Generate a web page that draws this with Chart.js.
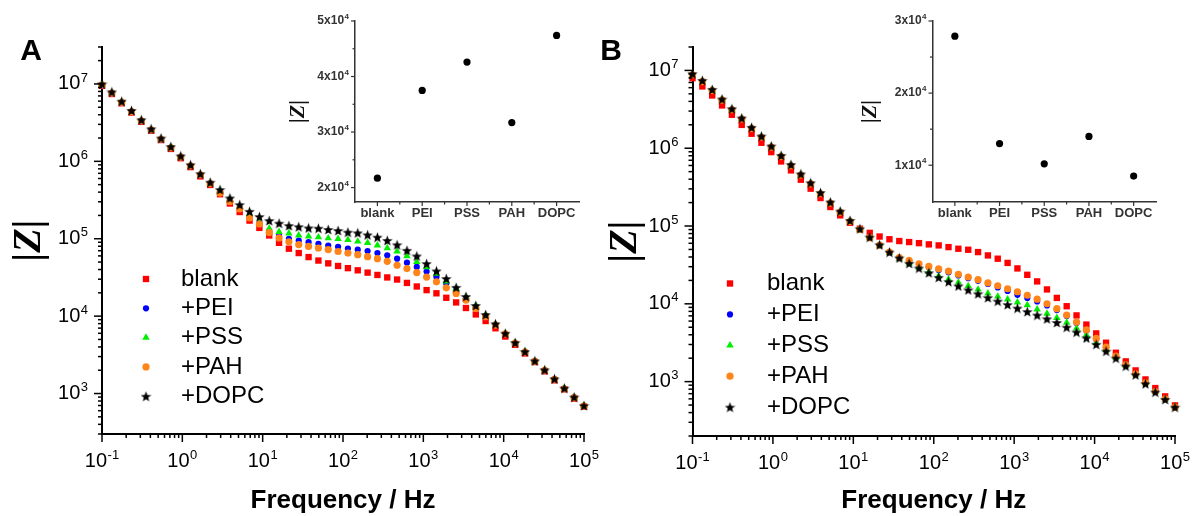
<!DOCTYPE html>
<html>
<head>
<meta charset="utf-8">
<script src="https://cdn.jsdelivr.net/npm/chart.js@4.4.1/dist/chart.umd.min.js"></script>
<style>
  html, body { margin: 0; padding: 0; background: #fff; }
  #wrap { position: relative; width: 1192px; height: 516px; overflow: hidden; }
  canvas { position: absolute; }
</style>
</head>
<body>
<div id="wrap">
  <canvas id="mainA" width="612" height="516" style="left:0;top:0"></canvas>
  <canvas id="mainB" width="596" height="516" style="left:596px;top:0"></canvas>
  <canvas id="insetA" width="310" height="235" style="left:280px;top:0"></canvas>
  <canvas id="insetB" width="310" height="235" style="left:850px;top:0"></canvas>
</div>
<script>
// frequencies (Hz), 50 points from 0.1 Hz to 100 kHz
const frequency = [
  0.1, 0.1326, 0.1758, 0.2330, 0.3089, 0.4095, 0.5429, 0.7197, 0.9541, 1.265,
  1.677, 2.223, 2.947, 3.907, 5.180, 6.867, 9.103, 12.07, 16.00, 21.21,
  28.12, 37.28, 49.42, 65.51, 86.85, 115.1, 152.6, 202.4, 268.3, 355.6,
  471.5, 625.1, 828.6, 1098, 1456, 1931, 2560, 3393, 4498, 5964,
  7906, 10481, 13895, 18421, 24421, 32375, 42919, 56899, 75431, 100000
];

// log10 |Z| (ohm), panel A
const logZA_blank = [
  6.975, 6.87, 6.75, 6.63, 6.51, 6.395, 6.275, 6.16, 6.04, 5.925,
  5.805, 5.695, 5.575, 5.455, 5.345, 5.234, 5.14, 5.042, 4.947, 4.871,
  4.815, 4.763, 4.718, 4.682, 4.648, 4.62, 4.592, 4.562, 4.532, 4.50,
  4.473, 4.429, 4.383, 4.336, 4.295, 4.237, 4.177, 4.105, 4.022, 3.937,
  3.843, 3.736, 3.63, 3.518, 3.407, 3.287, 3.171, 3.055, 2.935, 2.832
];
const logZA_PEI = [
  6.98, 6.877, 6.757, 6.637, 6.517, 6.40, 6.28, 6.17, 6.05, 5.935,
  5.82, 5.71, 5.61, 5.50, 5.40, 5.30, 5.20, 5.10, 5.04, 5.00,
  4.975, 4.955, 4.935, 4.912, 4.895, 4.873, 4.858, 4.841, 4.815, 4.785,
  4.742, 4.69, 4.636, 4.576, 4.507, 4.422, 4.33, 4.23, 4.12, 4.005,
  3.89, 3.772, 3.652, 3.537, 3.417, 3.30, 3.185, 3.065, 2.95, 2.84
];
const logZA_PSS = [
  6.99, 6.887, 6.767, 6.647, 6.527, 6.41, 6.29, 6.18, 6.06, 5.945,
  5.83, 5.72, 5.62, 5.51, 5.415, 5.32, 5.21, 5.13, 5.09, 5.07,
  5.045, 5.03, 5.02, 5.007, 4.999, 4.986, 4.965, 4.948, 4.914, 4.879,
  4.837, 4.777, 4.70, 4.634, 4.55, 4.45, 4.357, 4.248, 4.132, 4.015,
  3.895, 3.775, 3.655, 3.54, 3.42, 3.303, 3.187, 3.067, 2.952, 2.842
];
const logZA_PAH = [
  6.985, 6.882, 6.762, 6.642, 6.522, 6.405, 6.285, 6.175, 6.055, 5.94,
  5.825, 5.712, 5.59, 5.48, 5.385, 5.27, 5.19, 5.08, 5.01, 4.96,
  4.925, 4.90, 4.88, 4.86, 4.835, 4.815, 4.794, 4.768, 4.742, 4.708,
  4.657, 4.614, 4.563, 4.504, 4.443, 4.366, 4.293, 4.207, 4.10, 3.993,
  3.884, 3.77, 3.65, 3.535, 3.415, 3.30, 3.182, 3.062, 2.947, 2.837
];
const logZA_DOPC = [
  7.00, 6.897, 6.777, 6.657, 6.537, 6.42, 6.30, 6.19, 6.07, 5.955,
  5.84, 5.73, 5.635, 5.527, 5.44, 5.354, 5.286, 5.234, 5.20, 5.17,
  5.155, 5.14, 5.136, 5.12, 5.106, 5.085, 5.076, 5.05, 5.02, 4.978,
  4.922, 4.85, 4.777, 4.679, 4.584, 4.486, 4.372, 4.254, 4.138, 4.02,
  3.90, 3.778, 3.658, 3.542, 3.422, 3.306, 3.19, 3.07, 2.955, 2.844
];

// panel B
const logZB_blank = [
  6.90, 6.794, 6.678, 6.55, 6.43, 6.30, 6.186, 6.07, 5.95, 5.83,
  5.715, 5.595, 5.48, 5.36, 5.244, 5.137, 5.042, 4.965, 4.912, 4.865,
  4.83, 4.807, 4.794, 4.78, 4.764, 4.751, 4.729, 4.708, 4.695, 4.665,
  4.622, 4.58, 4.526, 4.455, 4.373, 4.288, 4.185, 4.076, 3.969, 3.851,
  3.733, 3.62, 3.50, 3.371, 3.26, 3.144, 3.028, 2.917, 2.81, 2.694
];
const logZB_PEI = [
  6.945, 6.86, 6.745, 6.62, 6.496, 6.376, 6.256, 6.144, 6.016, 5.896,
  5.778, 5.658, 5.544, 5.418, 5.296, 5.18, 5.06, 4.955, 4.85, 4.755,
  4.66, 4.59, 4.55, 4.505, 4.47, 4.435, 4.405, 4.365, 4.33, 4.295,
  4.255, 4.21, 4.165, 4.115, 4.075, 4.03, 3.98, 3.92, 3.845, 3.755,
  3.655, 3.545, 3.44, 3.325, 3.215, 3.10, 2.985, 2.875, 2.778, 2.672
];
const logZB_PSS = [
  6.95, 6.864, 6.748, 6.624, 6.50, 6.38, 6.26, 6.148, 6.02, 5.90,
  5.782, 5.662, 5.548, 5.422, 5.30, 5.184, 5.064, 4.957, 4.85, 4.75,
  4.655, 4.58, 4.52, 4.465, 4.41, 4.357, 4.315, 4.275, 4.23, 4.185,
  4.135, 4.095, 4.057, 4.02, 3.985, 3.93, 3.875, 3.82, 3.76, 3.685,
  3.60, 3.498, 3.405, 3.312, 3.208, 3.094, 2.978, 2.869, 2.773, 2.674
];
const logZB_PAH = [
  6.943, 6.857, 6.741, 6.617, 6.493, 6.373, 6.253, 6.141, 6.013, 5.893,
  5.775, 5.655, 5.541, 5.415, 5.293, 5.177, 5.057, 4.955, 4.85, 4.755,
  4.665, 4.595, 4.558, 4.515, 4.481, 4.451, 4.421, 4.38, 4.345, 4.31,
  4.27, 4.232, 4.194, 4.155, 4.11, 4.06, 4.001, 3.937, 3.855, 3.765,
  3.665, 3.555, 3.443, 3.327, 3.216, 3.10, 2.985, 2.873, 2.779, 2.672
];
const logZB_DOPC = [
  6.958, 6.872, 6.756, 6.632, 6.508, 6.388, 6.268, 6.156, 6.028, 5.908,
  5.79, 5.67, 5.556, 5.43, 5.308, 5.192, 5.072, 4.965, 4.858, 4.759,
  4.665, 4.59, 4.52, 4.46, 4.40, 4.34, 4.285, 4.23, 4.18, 4.13,
  4.08, 4.035, 3.99, 3.945, 3.90, 3.855, 3.808, 3.76, 3.70, 3.637,
  3.562, 3.48, 3.392, 3.302, 3.20, 3.088, 2.973, 2.866, 2.771, 2.672
];

// insets: |Z| at ~1 kHz
const insetLabels = ['blank', 'PEI', 'PSS', 'PAH', 'DOPC'];
const insetA = [21700, 37500, 42600, 31700, 47400];
const insetB = [27900, 13000, 10200, 14000, 8500];

const seriesNames = ['blank', '+PEI', '+PSS', '+PAH', '+DOPC'];
const freqExponents = [-1, 0, 1, 2, 3, 4, 5];
const zExponents = [3, 4, 5, 6, 7];
const insetTicksA = [20000, 30000, 40000, 50000];
const insetTicksB = [10000, 20000, 30000];

// ---- styling ----
function starImage(size, color) {
  const c = document.createElement('canvas');
  c.width = c.height = size;
  const g = c.getContext('2d');
  g.fillStyle = color;
  g.beginPath();
  for (let k = 0; k < 10; k++) {
    const r = k % 2 ? size * 0.21 : size / 2;
    const a = -Math.PI / 2 + k * Math.PI / 5;
    g.lineTo(size / 2 + r * Math.cos(a), size / 2 + 0.6 + r * Math.sin(a));
  }
  g.closePath();
  g.fill();
  return c;
}
const star = starImage(11, '#000');

const markerStyles = [
  { color: '#ff0000', pointStyle: 'rect', radius: 4.5, order: 5 },
  { color: '#0000ff', pointStyle: 'circle', radius: 3.1, order: 4 },
  { color: '#00ee00', pointStyle: 'triangle', radius: 4.3, order: 3 },
  { color: '#ff8419', pointStyle: 'circle', radius: 3.6, order: 2 },
  { color: '#000000', pointStyle: star, radius: 4.5, order: 1 }
];

const sans = '"Liberation Sans", Arial, sans-serif';
const serif = '"Liberation Serif", "Times New Roman", serif';

function buildDatasets(logSeries) {
  return logSeries.map((logs, s) => ({
    label: seriesNames[s],
    data: frequency.map((f, i) => ({ x: f, y: Math.pow(10, logs[i]) })),
    showLine: false,
    pointStyle: markerStyles[s].pointStyle,
    pointRadius: markerStyles[s].radius,
    pointBackgroundColor: markerStyles[s].color,
    pointBorderWidth: 0,
    borderColor: markerStyles[s].color,
    order: markerStyles[s].order,
    clip: false
  }));
}

function logTicks(lo, hi) {
  const major = [], minor = [];
  for (let e = Math.floor(Math.log10(lo)); e <= Math.floor(Math.log10(hi)); e++) {
    const b = Math.pow(10, e);
    for (let k = 1; k <= 9; k++) {
      const v = k * b;
      if (v < lo * 0.999 || v > hi * 1.001) continue;
      (k === 1 ? major : minor).push(v);
    }
  }
  return { major, minor };
}

function drawMarker(ctx, st, x, y) {
  ctx.fillStyle = st.color;
  const r = st.radius;
  if (st.pointStyle instanceof HTMLCanvasElement) {
    ctx.drawImage(st.pointStyle, x - st.pointStyle.width / 2, y - st.pointStyle.height / 2);
    return;
  }
  ctx.beginPath();
  if (st.pointStyle === 'rect') {
    const s = r * Math.SQRT2;
    ctx.rect(x - s / 2, y - s / 2, s, s);
  } else if (st.pointStyle === 'triangle') {
    ctx.moveTo(x, y - r);
    ctx.lineTo(x + r * Math.sin(2 * Math.PI / 3), y - r * Math.cos(2 * Math.PI / 3));
    ctx.lineTo(x + r * Math.sin(4 * Math.PI / 3), y - r * Math.cos(4 * Math.PI / 3));
    ctx.closePath();
  } else {
    ctx.arc(x, y, r, 0, Math.PI * 2);
  }
  ctx.fill();
}

function supText(ctx, lab, x, y, align, o) {
  ctx.font = o.font;
  const w1 = ctx.measureText(lab.base).width;
  ctx.font = o.supFont;
  const w2 = ctx.measureText(lab.exp).width;
  const total = w1 + o.supGap + w2;
  const left = align === 'center' ? x - total / 2 : x - total;
  ctx.textAlign = 'left';
  ctx.textBaseline = 'middle';
  ctx.font = o.font;
  ctx.fillText(lab.base, left, y);
  ctx.font = o.supFont;
  ctx.fillText(lab.exp, left + w1 + o.supGap, y - o.supRise);
}

// ticks, tick labels, legend and panel letter
const decor = {
  id: 'decor',
  afterDraw(chart, args, o) {
    const ctx = chart.ctx, a = chart.chartArea;
    const xs = chart.scales.x, ys = chart.scales.y;
    ctx.save();
    ctx.strokeStyle = o.color;
    ctx.fillStyle = o.color;
    ctx.lineWidth = o.tickWidth;
    const seg = (x1, y1, x2, y2) => { ctx.beginPath(); ctx.moveTo(x1, y1); ctx.lineTo(x2, y2); ctx.stroke(); };
    o.xMajor.forEach(v => { const p = xs.getPixelForValue(v); seg(p, a.bottom, p, a.bottom + o.majorLen); });
    o.xMinor.forEach(v => { const p = xs.getPixelForValue(v); seg(p, a.bottom, p, a.bottom + o.minorLen); });
    o.yMajor.forEach(v => { const p = ys.getPixelForValue(v); seg(a.left, p, a.left - o.majorLen, p); });
    o.yMinor.forEach(v => { const p = ys.getPixelForValue(v); seg(a.left, p, a.left - o.minorLen, p); });

    ctx.fillStyle = o.color;
    (o.xLabels || []).forEach(l => supText(ctx, l, xs.getPixelForValue(l.value), a.bottom + o.xGap, 'center', o));
    (o.yLabels || []).forEach(l => supText(ctx, l, a.left - o.yGap, ys.getPixelForValue(l.value), 'right', o));

    if (o.categoryGap) {
      ctx.font = o.catFont;
      ctx.textAlign = 'center';
      ctx.textBaseline = 'middle';
      chart.data.labels.forEach((t, i) => ctx.fillText(t, xs.getPixelForValue(i), a.bottom + o.categoryGap));
    }
    if (o.letter) {
      ctx.font = 'bold 30px ' + sans;
      ctx.textAlign = 'center';
      ctx.textBaseline = 'middle';
      ctx.fillStyle = '#000';
      ctx.fillText(o.letter.text, o.letter.x, o.letter.y);
    }
    if (o.legend) {
      const L = o.legend;
      seriesNames.forEach((name, s) => {
        const y = L.y + s * L.dy;
        drawMarker(ctx, markerStyles[s], L.x, y);
        ctx.fillStyle = '#000';
        ctx.font = L.font;
        ctx.textAlign = 'left';
        ctx.textBaseline = 'middle';
        ctx.fillText(name, L.textX, y);
      });
    }
    ctx.restore();
  }
};

function mainChart(id, logSeries, yMin, yMax, box, letter, legend) {
  const xt = logTicks(0.1, 1e5);
  const yt = logTicks(yMin, yMax);
  new Chart(document.getElementById(id), {
    type: 'scatter',
    data: { datasets: buildDatasets(logSeries) },
    plugins: [decor],
    options: {
      responsive: false,
      animation: false,
      devicePixelRatio: 1,
      events: [],
      layout: { padding: { top: box.top, right: box.right, left: 0, bottom: 0 } },
      scales: {
        x: {
          type: 'logarithmic', min: 0.1, max: 1e5,
          grid: { display: false }, ticks: { display: false },
          border: { display: true, color: '#000', width: 2 },
          title: { display: true, text: 'Frequency / Hz', color: '#000',
                   font: { family: sans, size: 26, weight: 'bold', lineHeight: 1.2 }, padding: { top: 0, bottom: 0 } },
          afterFit: s => { s.height = box.xh; }
        },
        y: {
          type: 'logarithmic', min: yMin, max: yMax,
          grid: { display: false }, ticks: { display: false },
          border: { display: true, color: '#000', width: 2 },
          title: { display: true, text: '|Z|', color: '#000',
                   font: { family: serif, size: 40, weight: 'bold', style: 'italic', lineHeight: 1.2 }, padding: { top: 6, bottom: 0 } },
          afterFit: s => { s.width = box.yw; }
        }
      },
      plugins: {
        legend: { display: false },
        tooltip: { enabled: false },
        decor: {
          color: '#000', tickWidth: 1.5, majorLen: 8, minorLen: 4,
          xMajor: xt.major, xMinor: xt.minor, yMajor: yt.major, yMinor: yt.minor,
          xLabels: freqExponents.map(e => ({ value: Math.pow(10, e), base: '10', exp: String(e) })),
          yLabels: zExponents.map(e => ({ value: Math.pow(10, e), base: '10', exp: String(e) })),
          font: '20px ' + sans, supFont: '13px ' + sans, supRise: 6, supGap: 0.5,
          xGap: 27, yGap: 14,
          letter: letter, legend: legend
        }
      }
    }
  });
}

function insetChart(id, values, yMin, yMax, majors, minors, box) {
  new Chart(document.getElementById(id), {
    type: 'line',
    data: {
      labels: insetLabels,
      datasets: [{ data: values, showLine: false, pointRadius: 3.6, pointBorderWidth: 0,
                   pointBackgroundColor: '#000', borderColor: '#000', clip: false }]
    },
    plugins: [decor],
    options: {
      responsive: false,
      animation: false,
      devicePixelRatio: 1,
      events: [],
      layout: { padding: { top: box.top, right: box.right, left: 0, bottom: 0 } },
      scales: {
        x: {
          type: 'category', offset: true,
          grid: { display: false }, ticks: { display: false },
          border: { display: true, color: '#333', width: 1.5 },
          afterFit: s => { s.height = box.xh; }
        },
        y: {
          type: 'linear', min: yMin, max: yMax,
          grid: { display: false }, ticks: { display: false },
          border: { display: true, color: '#333', width: 1.5 },
          title: { display: true, text: '|Z|', color: '#111',
                   font: { family: serif, size: 22, weight: 'bold', style: 'italic', lineHeight: 1.2 }, padding: { top: box.tp, bottom: 0 } },
          afterFit: s => { s.width = box.yw; }
        }
      },
      plugins: {
        legend: { display: false },
        tooltip: { enabled: false },
        decor: {
          color: '#333', tickWidth: 1.2, majorLen: 4, minorLen: 2.5,
          xMajor: insetLabels.map((l, i) => i), xMinor: [0.5, 1.5, 2.5, 3.5],
          yMajor: majors, yMinor: minors,
          yLabels: majors.map(v => ({ value: v, base: (v / 10000) + 'x10', exp: '4' })),
          font: 'bold 12px ' + sans, supFont: 'bold 8px ' + sans, supRise: 4, supGap: 0.5,
          yGap: 6, categoryGap: 11, catFont: 'bold 13px ' + sans
        }
      }
    }
  });
}

mainChart('mainA', [logZA_blank, logZA_PEI, logZA_PSS, logZA_PAH, logZA_DOPC], 300, 3e7,
  { top: 47, right: 28, xh: 82, yw: 102 },
  { text: 'A', x: 31, y: 52 },
  { x: 146, y: 279, dy: 29.3, textX: 181, font: '24px ' + sans });
mainChart('mainB', [logZB_blank, logZB_PEI, logZB_PSS, logZB_PAH, logZB_DOPC], 200, 2e7,
  { top: 47, right: 17, xh: 80, yw: 96.5 },
  { text: 'B', x: 15, y: 52 },
  { x: 134, y: 283.5, dy: 30.9, textX: 171, font: '24px ' + sans });
insetChart('insetA', insetA, 17400, 50000, insetTicksA, [25000, 35000, 45000],
  { top: 21, right: 11, xh: 33, yw: 75, tp: 5 });
insetChart('insetB', insetB, 4900, 30000, insetTicksB, [15000, 25000],
  { top: 21, right: 4, xh: 33, yw: 82.5, tp: 7 });
</script>
</body>
</html>
